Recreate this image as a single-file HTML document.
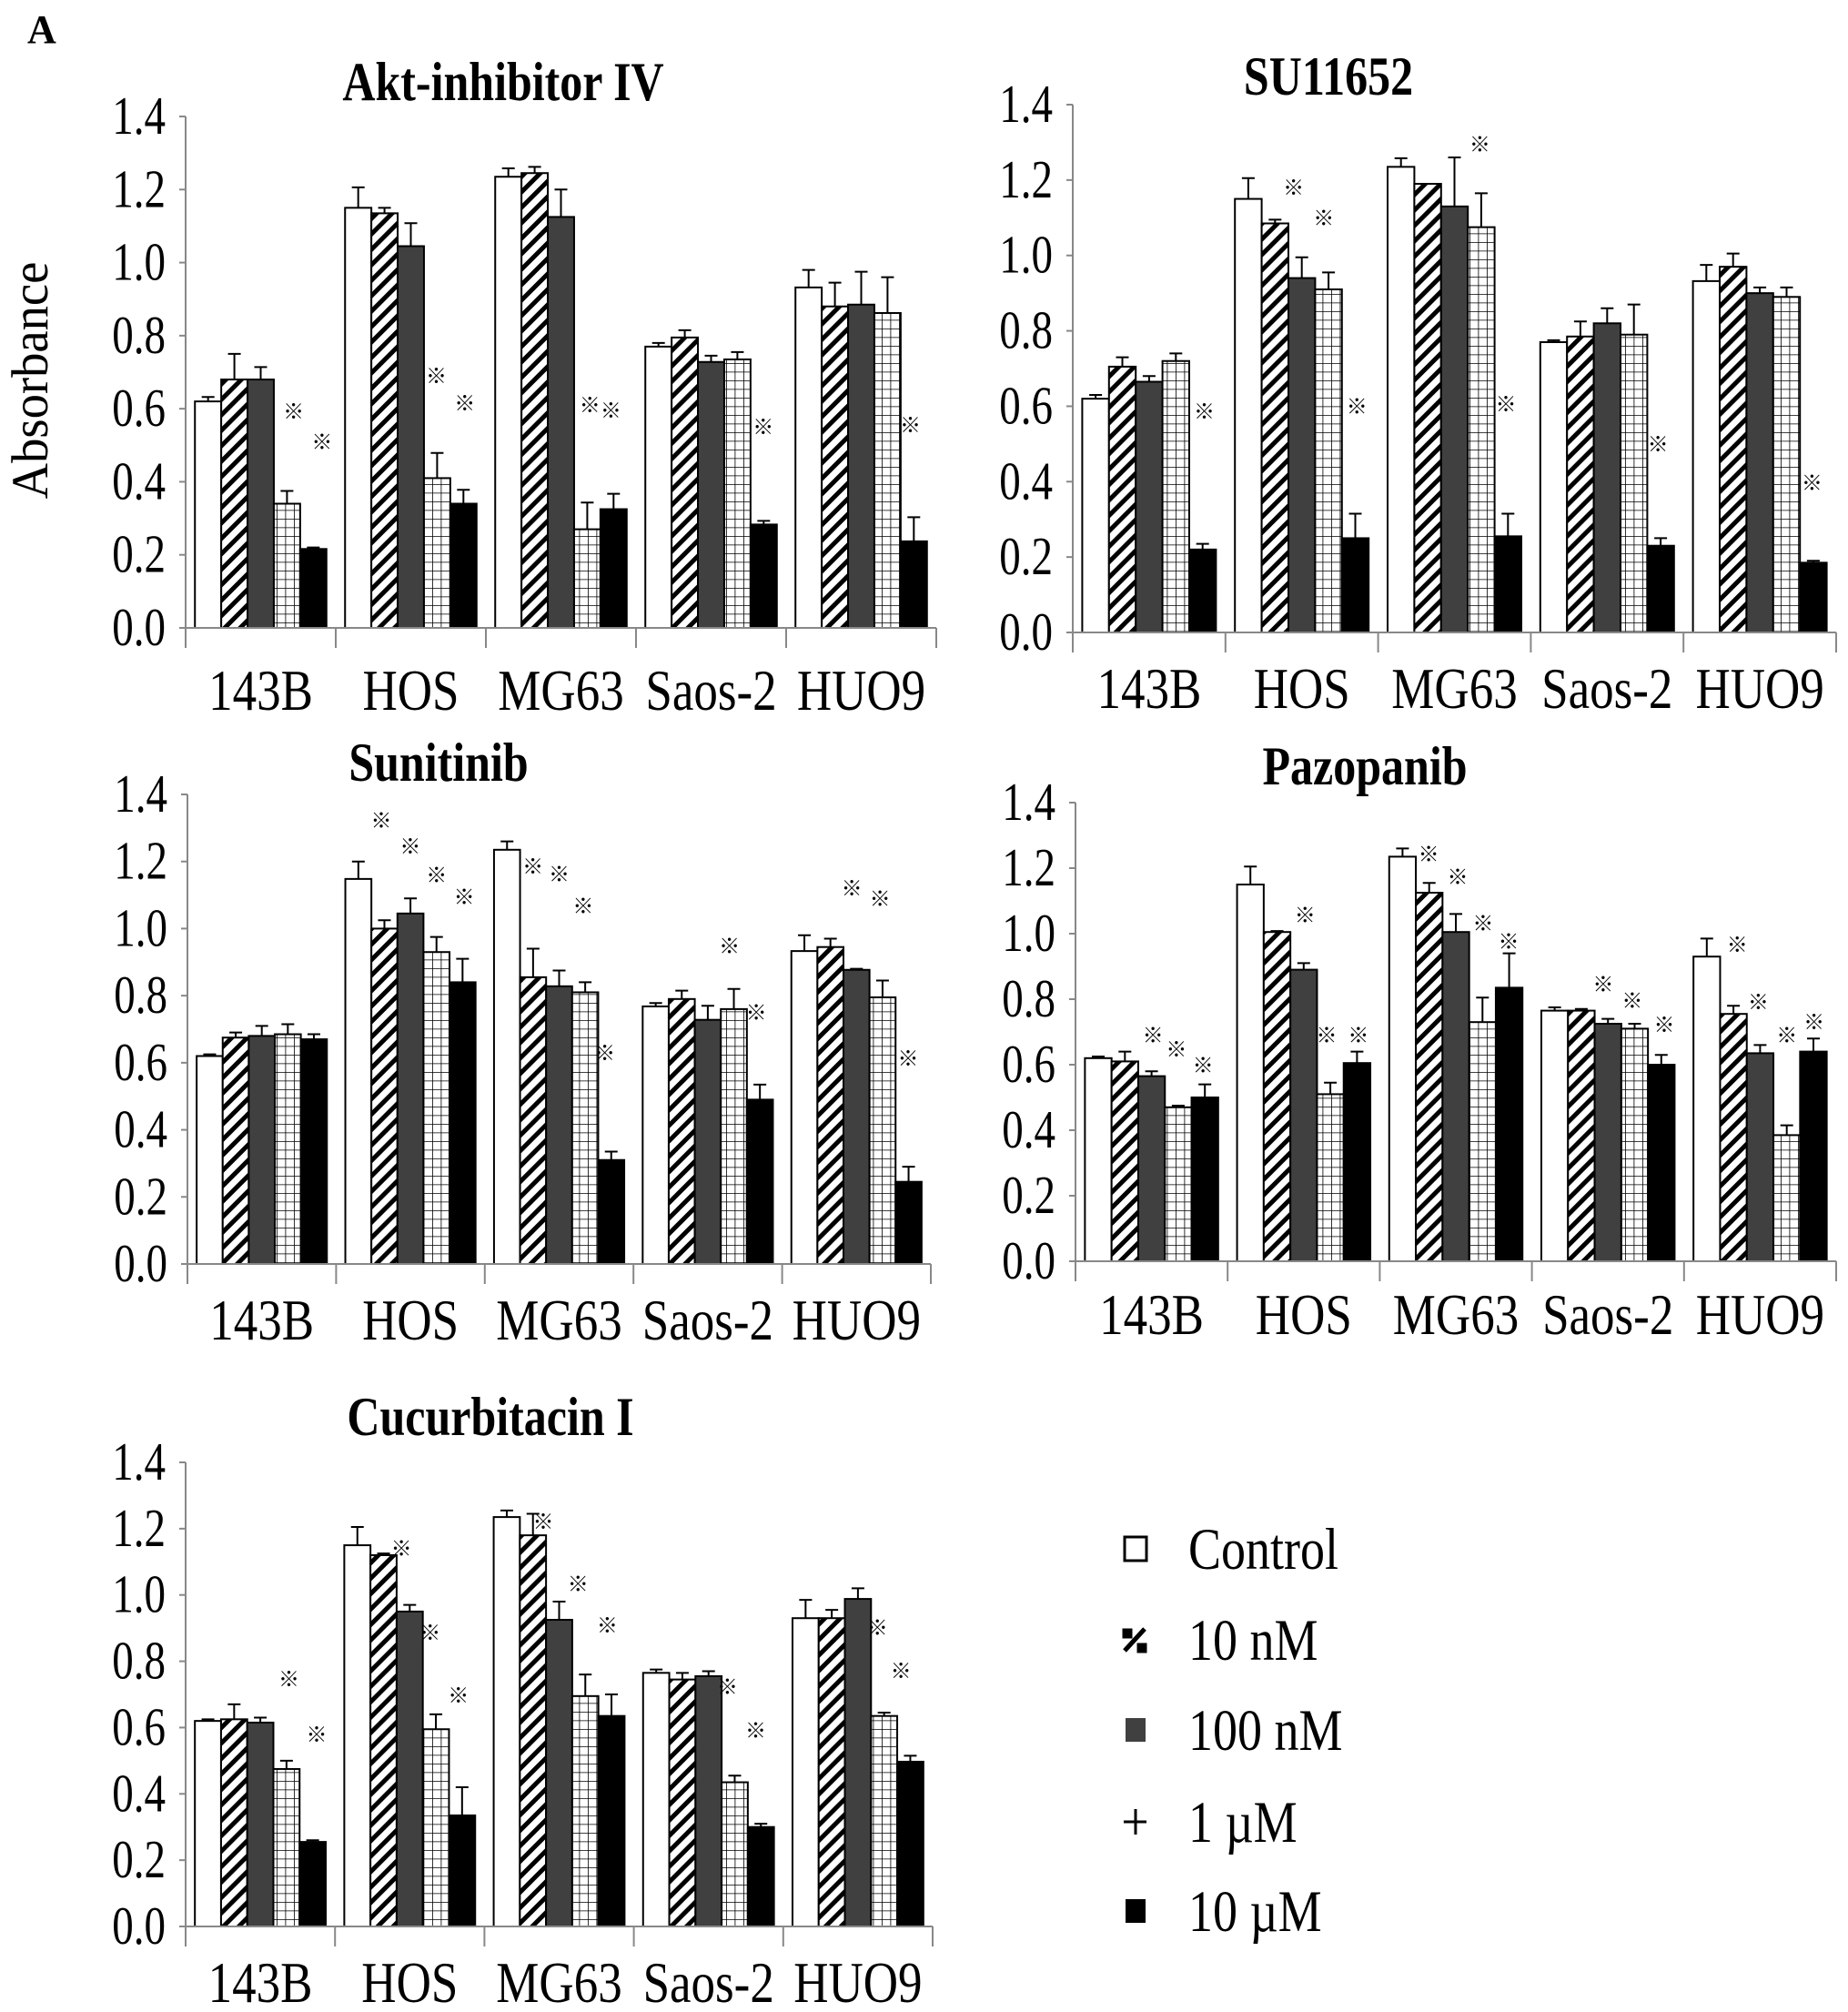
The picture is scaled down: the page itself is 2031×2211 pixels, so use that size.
<!DOCTYPE html>
<html><head><meta charset="utf-8">
<style>
html,body{margin:0;padding:0;background:#fff;}
svg{display:block;}
text{font-family:"Liberation Serif","Noto Serif CJK SC",serif;fill:#000;}
.star{font-family:"Liberation Sans","Noto Sans CJK JP",sans-serif;font-size:23px;font-weight:bold;}
</style></head>
<body>
<svg id="fig" width="2031" height="2211" viewBox="0 0 2031 2211" xmlns="http://www.w3.org/2000/svg">
<defs>
<pattern id="hatch" patternUnits="userSpaceOnUse" width="12" height="12" patternTransform="rotate(45)">
<rect width="12" height="12" fill="#fff"/><rect x="0" y="0" width="5" height="12" fill="#000"/>
</pattern>
<pattern id="grid" patternUnits="userSpaceOnUse" width="9.5" height="9.5">
<rect width="9.5" height="9.5" fill="#fff"/><path d="M0 0H9.5M0 0V9.5" stroke="#000" stroke-width="1.6"/>
</pattern>
</defs>
<text x="30" y="47" font-size="44" font-weight="bold">A</text>
<g id="panels"></g>
<g id="legend"></g>
</svg>
<script>
const categories = ["143B","HOS","MG63","Saos-2","HUO9"];
const seriesNames = ["Control","10 nM","100 nM","1 \u00b5M","10 \u00b5M"];
const yTicks = [0.0,0.2,0.4,0.6,0.8,1.0,1.2,1.4];
const yTickLabels = ["0.0","0.2","0.4","0.6","0.8","1.0","1.2","1.4"];

const aktVals = [[0.62,0.68,0.68,0.34,0.216],[1.15,1.135,1.045,0.41,0.34],[1.235,1.245,1.125,0.27,0.325],[0.77,0.795,0.728,0.735,0.283],[0.932,0.88,0.885,0.862,0.237]];
const aktErr  = [[0.632,0.75,0.714,0.375,0.22],[1.206,1.15,1.108,0.479,0.378],[1.258,1.262,1.20,0.343,0.367],[0.78,0.815,0.745,0.755,0.293],[0.98,0.945,0.975,0.96,0.303]];
const aktStars = [[0,3.25,0.593],[0,4.33,0.51],[1,2.97,0.69],[1,4.05,0.615],[2,3.1,0.61],[2,3.9,0.595],[3,3.98,0.55],[4,3.87,0.555]];

const suVals = [[0.62,0.705,0.665,0.72,0.22],[1.15,1.085,0.94,0.91,0.25],[1.235,1.19,1.13,1.075,0.255],[0.77,0.785,0.82,0.79,0.23],[0.932,0.97,0.9,0.89,0.185]];
const suErr  = [[0.63,0.73,0.68,0.74,0.235],[1.205,1.095,0.995,0.955,0.315],[1.258,1.19,1.26,1.165,0.315],[0.775,0.825,0.86,0.87,0.25],[0.975,1.005,0.915,0.915,0.19]];
const suStars = [[0,4.06,0.587],[1,1.69,1.18],[1,2.82,1.10],[1,4.06,0.60],[2,2.95,1.295],[2,3.92,0.606],[3,3.9,0.50],[4,3.95,0.397]];

const sunVals = [[0.62,0.675,0.68,0.685,0.67],[1.148,1.0,1.045,0.93,0.84],[1.235,0.855,0.828,0.81,0.31],[0.768,0.79,0.728,0.76,0.49],[0.933,0.945,0.877,0.795,0.245]];
const sunErr  = [[0.625,0.69,0.71,0.715,0.685],[1.2,1.025,1.09,0.975,0.91],[1.26,0.94,0.875,0.84,0.335],[0.778,0.815,0.77,0.82,0.535],[0.98,0.97,0.88,0.845,0.29]];
const sunStars = [[1,0.88,1.323],[1,1.99,1.246],[1,3.0,1.16],[1,4.06,1.095],[2,0.99,1.186],[2,2.0,1.162],[2,2.92,1.067],[2,3.75,0.63],[3,2.83,0.948],[3,3.86,0.75],[4,1.82,1.12],[4,2.9,1.09],[4,3.98,0.613]];

const pazVals = [[0.62,0.61,0.565,0.47,0.5],[1.15,1.005,0.89,0.51,0.605],[1.235,1.125,1.005,0.73,0.835],[0.765,0.765,0.725,0.71,0.6],[0.93,0.755,0.635,0.385,0.64]];
const pazErr  = [[0.625,0.64,0.58,0.475,0.54],[1.205,1.008,0.91,0.545,0.64],[1.26,1.155,1.06,0.805,0.94],[0.775,0.77,0.74,0.725,0.63],[0.985,0.78,0.66,0.415,0.68]];
const pazStars = [[0,2.05,0.69],[0,2.93,0.647],[0,3.93,0.598],[1,2.05,1.057],[1,2.86,0.69],[1,4.05,0.69],[2,0.98,1.243],[2,2.07,1.174],[2,3.02,1.032],[2,3.98,0.976],[3,1.82,0.846],[3,2.91,0.796],[3,4.11,0.722],[4,1.14,0.966],[4,1.93,0.792],[4,3.0,0.69],[4,4.02,0.73]];

const cucVals = [[0.62,0.625,0.615,0.475,0.255],[1.15,1.12,0.95,0.595,0.335],[1.235,1.18,0.925,0.695,0.635],[0.765,0.745,0.755,0.435,0.3],[0.93,0.93,0.988,0.635,0.497]];
const cucErr  = [[0.625,0.67,0.63,0.5,0.26],[1.205,1.125,0.97,0.64,0.42],[1.255,1.245,0.98,0.76,0.7],[0.775,0.765,0.77,0.455,0.31],[0.985,0.955,1.02,0.645,0.515]];
const cucStars = [[0,3.09,0.747],[0,4.15,0.579],[1,1.68,1.141],[1,2.78,0.886],[1,3.86,0.697],[2,1.39,1.222],[2,2.72,1.033],[2,3.84,0.908],[3,2.72,0.724],[3,3.8,0.591],[4,2.74,0.902],[4,3.64,0.772]];

const fills = ["#fff","url(#hatch)","#404040","url(#grid)","#000"];
const NS = "http://www.w3.org/2000/svg";

const panels = [
 {key:"akt", title:"Akt-inhibitor IV", vals:aktVals, err:aktErr, stars:aktStars, x0:204, x1:1029, y0:690, y14:128, tx:553, ty:110, lb:780, ylabel:true},
 {key:"su", title:"SU11652", vals:suVals, err:suErr, stars:suStars, x0:1179, x1:2018, y0:695, y14:115, tx:1460, ty:104, lb:778},
 {key:"sunitinib", title:"Sunitinib", vals:sunVals, err:sunErr, stars:sunStars, x0:206, x1:1023, y0:1389, y14:873, tx:482, ty:858, lb:1472},
 {key:"pazopanib", title:"Pazopanib", vals:pazVals, err:pazErr, stars:pazStars, x0:1182, x1:2018, y0:1386, y14:882, tx:1500, ty:862, lb:1466},
 {key:"cucurbitacin", title:"Cucurbitacin I", vals:cucVals, err:cucErr, stars:cucStars, x0:204, x1:1025, y0:2117, y14:1607, tx:539, ty:1577, lb:2200}
];

function mk(tag, attrs, parent){
  const e = document.createElementNS(NS, tag);
  for (const k in attrs) e.setAttribute(k, attrs[k]);
  parent.appendChild(e);
  return e;
}
function txt(parent, x, y, str, size, anchor, sy, extra){
  const attrs = {x:0, y:0, transform:"translate(" + x + "," + y + ") scale(1," + sy + ")", "text-anchor":anchor, "font-size":size};
  if (extra) for (const k in extra) attrs[k] = extra[k];
  const t = mk("text", attrs, parent);
  t.textContent = str;
  return t;
}
const root = document.getElementById("panels");

panels.forEach(p => {
  const g = mk("g", {}, root);
  
  
  const yScale = v => p.y0 - (v / 1.4) * (p.y0 - p.y14);
  const gw = (p.x1 - p.x0) / categories.length;
  const pad = gw * 0.062;
  const bw = (gw - 2 * pad) / 5;
  const slotX = (ci, s) => p.x0 + ci * gw + pad + (s + 0.5) * bw;

  const t = txt(g, p.tx, p.ty, p.title, 50, "middle", 1.2, {"font-weight":"bold"});
  
  

  const ya = mk("line", {x1:p.x0, x2:p.x0, y1:yScale(0), y2:yScale(1.4), stroke:"#888", "stroke-width":"2"}, g);
  
  
  yTicks.forEach((v, i) => {
    mk("line", {x1:p.x0 - 7, x2:p.x0, y1:yScale(v), y2:yScale(v), stroke:"#888", "stroke-width":"2"}, g);
    const tl = txt(g, p.x0 - 22, yScale(v) + 19, yTickLabels[i], 47, "end", 1.25);
    
    
  });

  categories.forEach((c, ci) => {
    p.vals[ci].forEach((v, si) => {
      const x = p.x0 + ci * gw + pad + si * bw;
      const r = mk("rect", {x:x, y:yScale(v), width:bw, height:yScale(0) - yScale(v), fill:fills[si], stroke:"#000", "stroke-width":"2"}, g);
      
      
      const e = p.err[ci][si];
      if (e > v) {
        const cx = x + bw / 2;
        const el = mk("path", {d:"M" + cx + " " + yScale(v) + "V" + yScale(e) + "M" + (cx - 7) + " " + yScale(e) + "H" + (cx + 7), stroke:"#000", "stroke-width":"2", fill:"none"}, g);
        
        
      }
    });
  });

  const xa = mk("line", {x1:p.x0, x2:p.x1, y1:yScale(0), y2:yScale(0), stroke:"#888", "stroke-width":"2"}, g);
  
  
  for (let i = 0; i <= categories.length; i++) {
    mk("line", {x1:p.x0 + i * gw, x2:p.x0 + i * gw, y1:yScale(0), y2:yScale(0) + 22, stroke:"#888", "stroke-width":"2"}, g);
  }
  categories.forEach((c, ci) => {
    const xl = txt(g, p.x0 + (ci + 0.5) * gw, p.lb, c, 53, "middle", 1.2);
    
    
  });

  p.stars.forEach(s => {
    const st = mk("text", {x:slotX(s[0], s[1]), y:yScale(s[2]) + 8, "text-anchor":"middle", class:"star"}, g);
    st.textContent = "\u203B";
    
    
  });

  if (p.ylabel) {
    const yl = mk("text", {x:0, y:0, transform:"translate(52,418) rotate(-90) scale(1.05,1.1)", "text-anchor":"middle", "font-size":"52"}, g);
    yl.textContent = "Absorbance";
    
    
  }
});

const lg = document.getElementById("legend");
const legendY = [1702,1802,1901,2002,2100];
seriesNames.forEach((n, i) => {
  const cy = legendY[i];
  const g = mk("g", {}, lg);
  
  
  if (i === 0) mk("rect", {x:1236, y:cy - 13, width:24, height:26, fill:"#fff", stroke:"#000", "stroke-width":"3"}, g);
  if (i === 1) mk("path", {d:"M1236 " + (cy + 12) + "L1258 " + (cy - 12) + "M1236 " + (cy - 10) + "h6v6h-6zM1252 " + (cy + 6) + "h6v6h-6z", stroke:"#000", "stroke-width":"5", fill:"#000"}, g);
  if (i === 2) mk("rect", {x:1237, y:cy - 13, width:22, height:26, fill:"#404040"}, g);
  if (i === 3) mk("path", {d:"M1235 " + cy + "H1260M1248 " + (cy - 14) + "V" + (cy + 14), stroke:"#000", "stroke-width":"3"}, g);
  if (i === 4) mk("rect", {x:1237, y:cy - 13, width:22, height:26, fill:"#000"}, g);
  txt(g, 1306, cy + 22, n, 54, "start", 1.2);
});
</script>
</body></html>
